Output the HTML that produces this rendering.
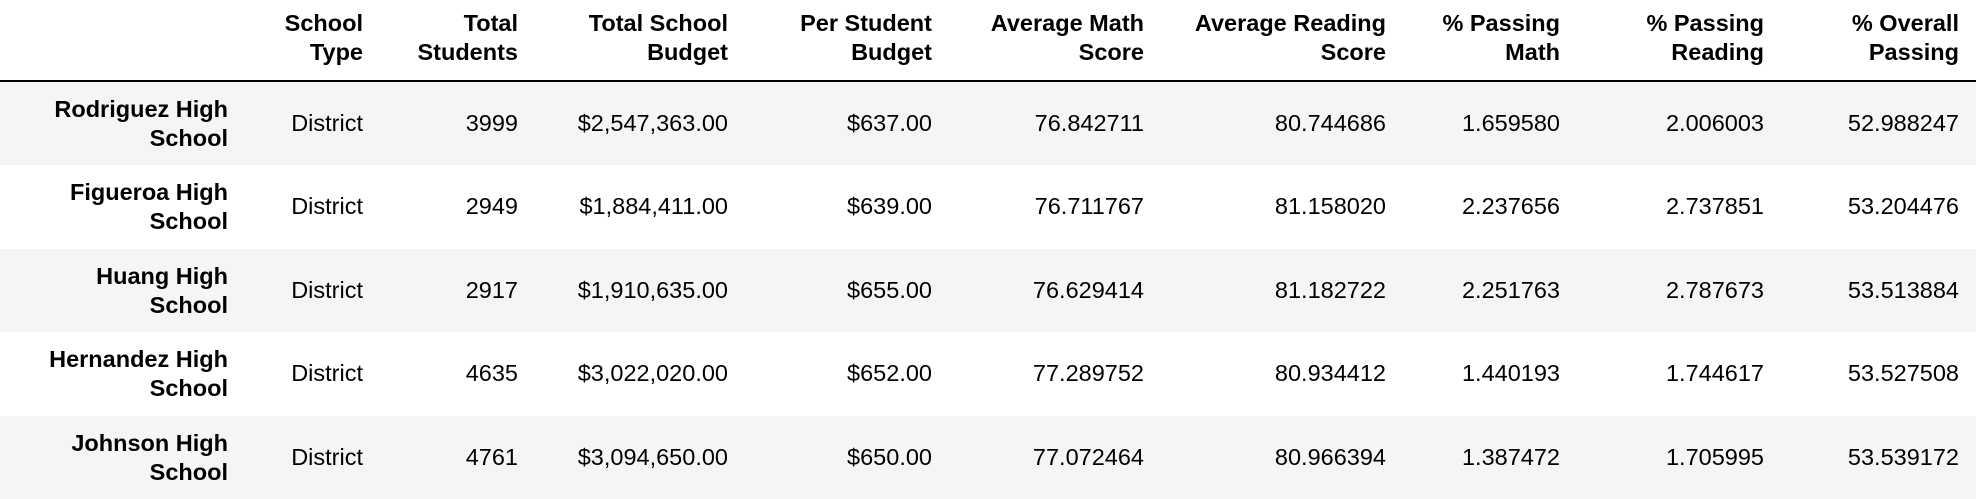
<!DOCTYPE html>
<html><head><meta charset="utf-8"><style>
body{margin:0;width:1976px;height:498px;overflow:hidden;background:#fff;font-family:"Liberation Sans",Arial,sans-serif;color:#000;}
#tbl{position:relative;width:1976px;height:498px;}
.c{position:absolute;text-align:right;font-size:23.5px;line-height:29px;white-space:nowrap;}
.h{font-weight:bold;}
.row{position:absolute;left:0;width:1976px;}
</style></head><body>
<div id="tbl"></div>
<script>
const headers=[["School","Type"],["Total","Students"],["Total School","Budget"],["Per Student","Budget"],["Average Math","Score"],["Average Reading","Score"],["% Passing","Math"],["% Passing","Reading"],["% Overall","Passing"]];
const schools=[["Rodriguez High","School"],["Figueroa High","School"],["Huang High","School"],["Hernandez High","School"],["Johnson High","School"]];
const types=["District","District","District","District","District"];
const students=["3999","2949","2917","4635","4761"];
const budgets=["$2,547,363.00","$1,884,411.00","$1,910,635.00","$3,022,020.00","$3,094,650.00"];
const perStudent=["$637.00","$639.00","$655.00","$652.00","$650.00"];
const mathScore=["76.842711","76.711767","76.629414","77.289752","77.072464"];
const readScore=["80.744686","81.158020","81.182722","80.934412","80.966394"];
const passMath=["1.659580","2.237656","2.251763","1.440193","1.387472"];
const passRead=["2.006003","2.737851","2.787673","1.744617","1.705995"];
const overall=["52.988247","53.204476","53.513884","53.527508","53.539172"];
const rights=[228,363,518,728,932,1144,1386,1560,1764,1959];
const tbl=document.getElementById('tbl');
function cell(txt,right,top,bold,isHtml){const d=document.createElement('div');d.className='c'+(bold?' h':'');d.style.right=(1976-right)+'px';d.style.top=top+'px';if(isHtml)d.innerHTML=txt;else d.textContent=txt;tbl.appendChild(d);return d;}
const line=document.createElement('div');


line.style.cssText='position:absolute;left:0;top:80px;width:1976px;height:2px;background:#000;';
tbl.appendChild(line);
headers.forEach((h,i)=>{const d=cell(h[0]+'<br>'+h[1],rights[i+1],9,true,true);

});
const rowH=83.4;
schools.forEach((s,r)=>{
 const top=82+r*rowH;
 const bg=document.createElement('div');bg.className='row';
 
 
 bg.style.top=top+'px';bg.style.height=rowH+'px';bg.style.background=(r%2==0)?'#f5f5f5':'#fff';tbl.appendChild(bg);
 const n=cell(s[0]+'<br>'+s[1],rights[0],top+13,true,true);
 
 
 const vals=[types[r],students[r],budgets[r],perStudent[r],mathScore[r],readScore[r],passMath[r],passRead[r],overall[r]];
 vals.forEach((v,i)=>{const d=cell(v,rights[i+1],top+27,false,false);
 
 });
});
</script>
</body></html>
